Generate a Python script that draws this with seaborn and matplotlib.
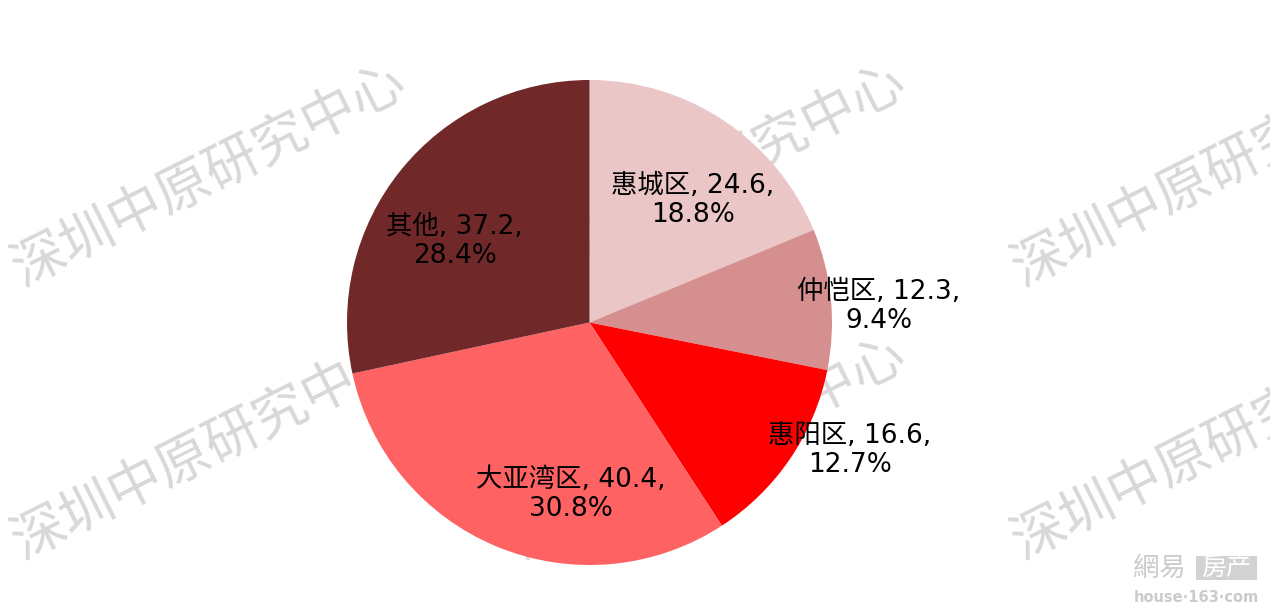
import matplotlib
matplotlib.use("Agg")
import matplotlib.pyplot as plt
from matplotlib.patches import Rectangle
import seaborn as sns

# data
districts = ["惠城区", "仲恺区", "惠阳区", "大亚湾区", "其他"]
volumes = [24.6, 12.3, 16.6, 40.4, 37.2]
slice_colors = ["#EAC6C6", "#D68F8F", "#FF0000", "#FF6262", "#702828"]

# label positions in pie units (layout only)
label_pos = [(0.427, 0.505), (1.194, 0.064), (1.074, -0.526), (-0.076, -0.711), (-0.555, 0.332)]

watermark = "深圳中原研究中心"
wm_color = "#D8D8D8"

sns.set_theme(style="white")
plt.rcParams["font.family"] = ["DejaVu Sans", "Noto Sans CJK SC"]
cjk = ["DejaVu Sans", "Noto Sans CJK SC"]

fig = plt.figure(figsize=(12.7, 6.12), dpi=100)
fig.patch.set_facecolor("white")

# background layer: watermarks and logo
bg = fig.add_axes([0, 0, 1, 1], zorder=0)
bg.set_axis_off()
bg.set_xlim(0, 1270)
bg.set_ylim(612, 0)
for cx in (210, 710, 1210):
    for cy in (176, 449):
        bg.text(cx, cy, watermark, fontsize=39, color=wm_color, rotation=26.6,
                rotation_mode="anchor", ha="center", va="center",
                family="Noto Sans CJK SC")

logo_gray = "#CBCBCB"
bg.text(1133, 568, "網易", fontsize=19, color=logo_gray, ha="left", va="center",
        family="Noto Sans CJK TC")
bg.add_patch(Rectangle((1196, 556), 61, 24, facecolor="#D2D2D2", edgecolor="none"))
bg.text(1226.5, 568, "房产", fontsize=18, color="white", ha="center", va="center",
        family="Noto Sans CJK TC")
bg.text(1196, 598, "house·163·com", fontsize=10.5, weight="bold", color=logo_gray,
        ha="center", va="center", family="DejaVu Sans")

# pie
ax = fig.add_axes([347 / 1270, 47 / 612, 485 / 1270, 485 / 612], zorder=1)
ax.patch.set_alpha(0)
palette = sns.color_palette(slice_colors)
ax.pie(volumes, colors=palette, startangle=90, counterclock=False, radius=1,
       wedgeprops=dict(linewidth=0))
ax.set_xlim(-1, 1)
ax.set_ylim(-1, 1)
ax.set_axis_off()

total = sum(volumes)
for name, v, (x, y) in zip(districts, volumes, label_pos):
    ax.text(x, y, f"{name}, {v},\n{v / total * 100:.1f}%", ha="center", va="center",
            fontsize=19, color="black", family=cjk, linespacing=1.15)

plt.savefig("out.png", dpi=100)
